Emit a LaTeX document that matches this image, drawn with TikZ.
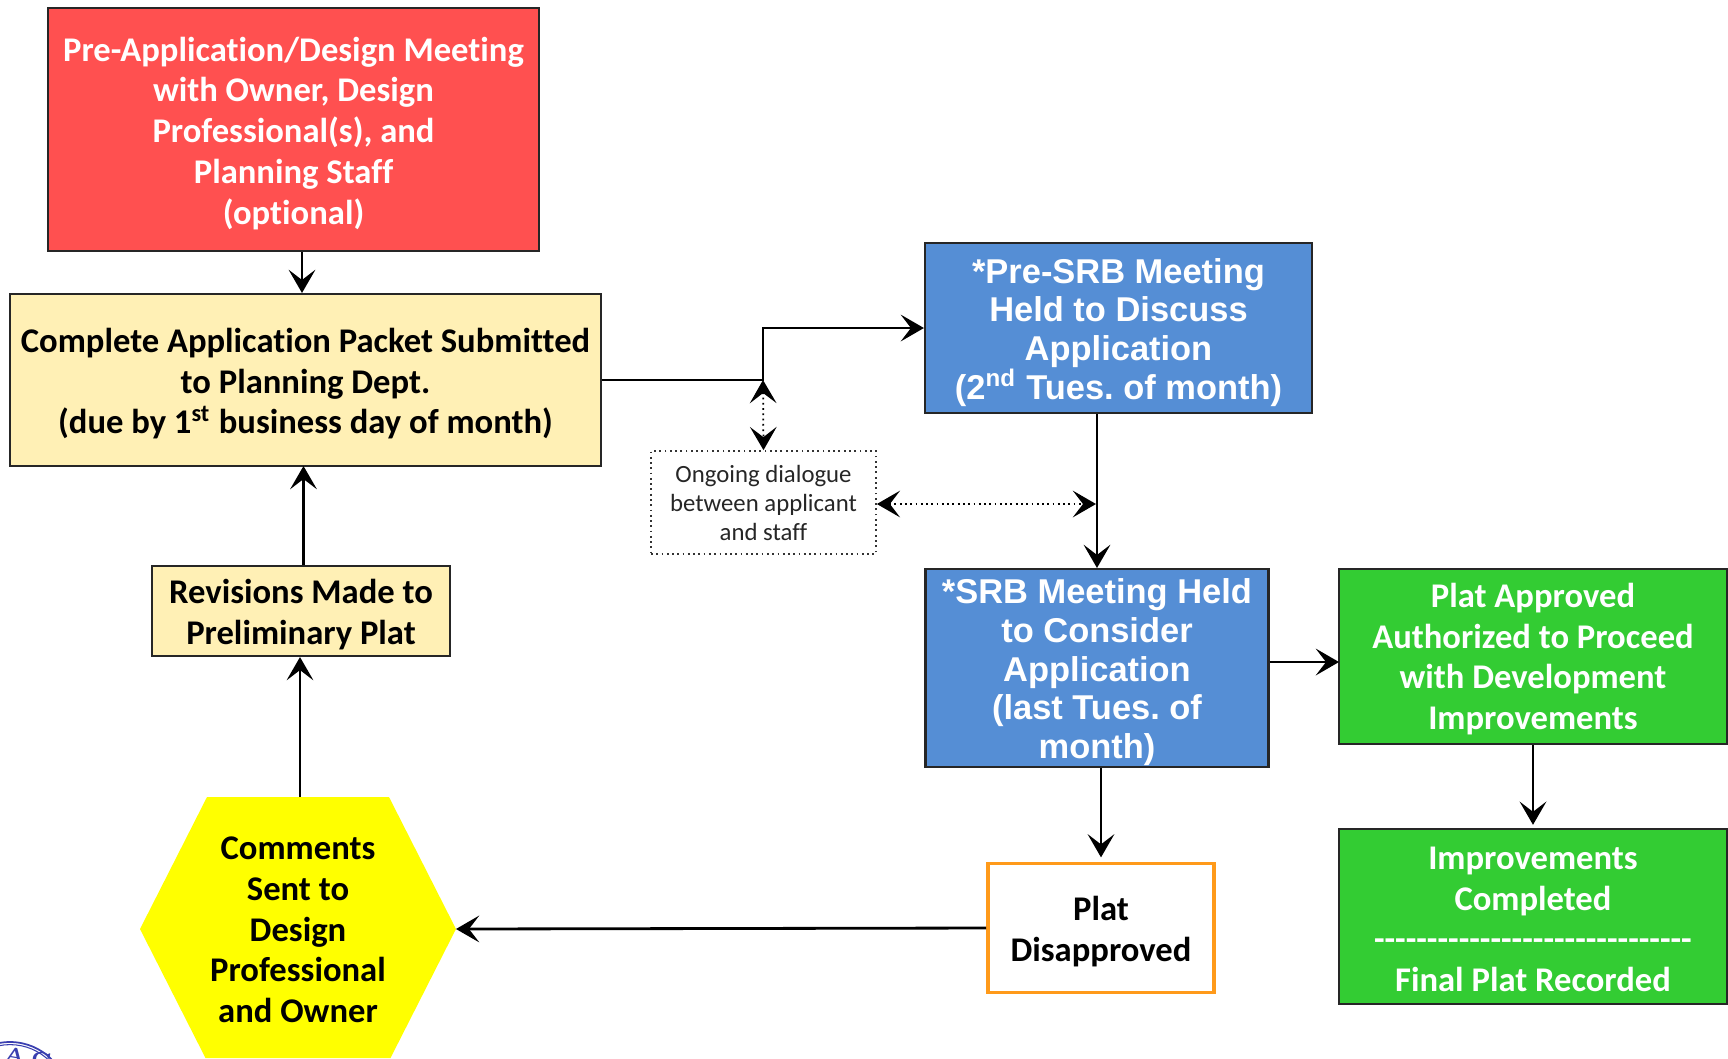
\documentclass[tikz,border=0pt]{standalone}
\usepackage{fontspec}
\usetikzlibrary{arrows.meta}
\newfontfamily\calibri[Ligatures=CommonOff]{Carlito}
\newfontfamily\arial{Liberation Sans}
\newcommand{\lowc}{\rule{0pt}{9pt}}
\newcommand{\lowa}{\rule{0pt}{9.6pt}}
\frenchspacing
\definecolor{redbox}{HTML}{FF5050}
\definecolor{creambox}{HTML}{FFF0B5}
\definecolor{bluebox}{HTML}{558ED5}
\definecolor{greenbox}{HTML}{33CC33}
\definecolor{hexbox}{HTML}{FFFF00}
\definecolor{orangeline}{HTML}{FF9A1A}
\definecolor{sealblue}{HTML}{3A3FB0}
\tikzset{
  flow/.style={-{Stealth[length=6.6pt, width=7.6pt, inset=2.9pt]}, line width=0.8pt},
  talk/.style={{Stealth[length=6.6pt, width=7.6pt, inset=2.9pt]}-{Stealth[length=6.6pt, width=7.6pt, inset=2.9pt]}, densely dotted, line width=0.5pt},
  box/.style={draw=black!85, line width=0.6pt, align=center, inner sep=0pt},
  calibrifont/.style={font=\calibri\bfseries\fontsize{9.85}{11.6}\selectfont},
  arialfont/.style={font=\arial\bfseries\fontsize{9.8}{11}\selectfont, text=white}
}
\begin{document}
\begin{tikzpicture}
      \useasboundingbox (0, 0) rectangle (17.28, -10.58);

      \node[box, calibrifont, fill=redbox, text=white, minimum width=4.91cm, minimum height=2.43cm] (meeting) at (2.935, -1.295) {\lowc Pre-Application/Design Meeting\\with Owner, Design\\Professional(s), and\\Planning Staff\\(optional)};
      \node[box, calibrifont, fill=creambox, minimum width=5.91cm, minimum height=1.72cm] (packet) at (3.055, -3.80) {\lowc Complete Application Packet Submitted\\to Planning Dept.\\(due by 1\textsuperscript{st} business day of month)};
      \node[box, calibrifont, fill=creambox, minimum width=2.98cm, minimum height=0.90cm] (revisions) at (3.01, -6.11) {\lowc Revisions Made to\\Preliminary Plat};
      \node[box, arialfont, fill=bluebox, minimum width=3.87cm, minimum height=1.70cm] (presrb) at (11.185, -3.28) {\lowa *Pre-SRB Meeting\\Held to Discuss\\Application\\(2\textsuperscript{nd} Tues. of month)};
      \node[box, arialfont, fill=bluebox, minimum width=3.43cm, minimum height=1.98cm] (srb) at (10.97, -6.68) {\lowa *SRB Meeting Held\\to Consider\\Application\\(last Tues. of\\month)};
      \node[box, calibrifont, fill=greenbox, text=white, minimum width=3.88cm, minimum height=1.75cm] (approved) at (15.33, -6.565) {\rule{0pt}{8.4pt}Plat Approved\\Authorized to Proceed\\with Development\\Improvements};
      \node[box, calibrifont, fill=greenbox, text=white, minimum width=3.88cm, minimum height=1.75cm] (recorded) at (15.33, -9.165) {\rule{0pt}{8pt}Improvements\\Completed\\------------------------------\\Final Plat Recorded};
      \node[draw=orangeline, line width=1.1pt, calibrifont, align=center, minimum width=2.26cm, minimum height=1.29cm, inner sep=0pt] (disapproved) at (11.01, -9.28) {\lowc Plat\\Disapproved};
      \node[draw=black!80, densely dotted, line width=0.5pt, align=center, font=\calibri\fontsize{7.05}{8.25}\selectfont, text=black!85, minimum width=2.25cm, minimum height=1.03cm, inner sep=0pt] (dialogue) at (7.635, -5.025) {Ongoing dialogue\\between applicant\\and staff};

      % hexagon, runs off the bottom of the page
      \coordinate (hexW) at (1.40, -9.29);
      \coordinate (hexE) at (4.56, -9.29);
      \fill[hexbox] (hexW) -- (2.07, -7.97) -- (3.89, -7.97) -- (hexE) -- (3.905, -10.58) -- (2.055, -10.58) -- cycle;
      \node[calibrifont, align=center, inner sep=0pt] (comments) at (2.98, -9.255) {\lowc Comments\\Sent to\\Design\\Professional\\and Owner};
      \coordinate (hexN) at (3.00, -7.97);

      % seal in the corner
      \begin{scope}
        \clip (0, -10.38) rectangle (0.52, -10.58);
        \draw[sealblue, line width=0.5pt] (0.10, -11.006) circle (0.586);
        \draw[sealblue, line width=0.3pt] (0.10, -11.006) circle (0.56);
        \node[sealblue, font=\bfseries\fontsize{5.7}{5.7}\selectfont, inner sep=0pt, anchor=base west, rotate=-10] (sealtext) at (0.03, -10.60) {A\hspace{1.8pt}C};
      \end{scope}

      \coordinate (pktTurn) at (7.63, -3.80);
      \coordinate (preIn) at (7.63, -3.28);
      \coordinate (srbLine) at (10.96, -5.04);
      \coordinate (approvedIn) at (13.39, -6.62);
      \coordinate (packetIn) at (3.035, -4.66);
      \draw[flow] (meeting.south -| 3.02, 0) to (packet.north -| 3.02, 0);
      \draw[flow] (packet.east) -- (pktTurn) -- (preIn) -- (presrb.west);
      \draw[talk] (pktTurn) to (dialogue.north);
      \draw[talk] (dialogue.east |- srbLine) to (srbLine);
      \draw[flow] (presrb.south -| srb.north) to (srb.north);
      \draw[flow] (srb.east |- approvedIn) to (approvedIn);
      \draw[flow, shorten >=0.9pt] (approved.south) to (recorded.north);
      \draw[flow, shorten >=1.2pt] (srb.south -| disapproved.north) to (disapproved.north);
      \draw[flow] (disapproved.west) to (hexE);
      \draw[flow] (hexN) to (revisions.south -| hexN);
      \draw[flow] (revisions.north -| packetIn) to (packetIn);
\end{tikzpicture}
\end{document}
